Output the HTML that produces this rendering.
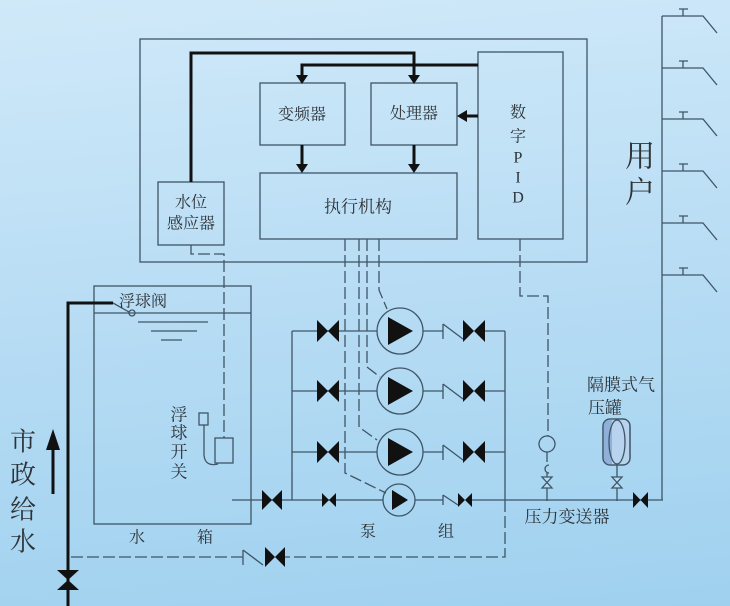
<!DOCTYPE html>
<html><head><meta charset="utf-8"><style>
html,body{margin:0;padding:0;}
body{width:730px;height:606px;overflow:hidden;background:linear-gradient(175deg,#d0e9f9 0%,#b7dcf4 50%,#9fd1ef 100%);}
svg{display:block;}
text{font-family:"Liberation Serif","Noto Serif CJK SC",serif;fill:#2e3338;}
</style></head><body>
<svg width="730" height="606" viewBox="0 0 730 606" xmlns="http://www.w3.org/2000/svg">
<g fill="none" stroke="#3f5566" stroke-width="1.3">
  <!-- control box -->
  <rect x="140" y="39" width="447" height="223"/>
  <rect x="260" y="83" width="85" height="62"/>
  <rect x="371" y="83" width="86" height="62"/>
  <rect x="478" y="52" width="85" height="187"/>
  <rect x="260" y="173" width="197" height="66"/>
  <rect x="158" y="182" width="66" height="63"/>
  <!-- tank -->
  <rect x="94" y="286" width="157" height="238"/>
  <line x1="94" y1="313" x2="251" y2="313"/>
  <line x1="138" y1="322" x2="208" y2="322"/>
  <line x1="151" y1="331" x2="197" y2="331"/>
  <line x1="161" y1="340" x2="182" y2="340"/>
  <line x1="113" y1="303" x2="129" y2="312"/>
  <circle cx="132" cy="313" r="3"/>
  <!-- float switch -->
  <rect x="215" y="438" width="18" height="25"/>
  <rect x="199" y="413" width="9" height="12"/>
  <path d="M204,425 L204,455 Q205,467 218,464"/>
  <!-- headers -->
  <line x1="292" y1="331" x2="292" y2="500"/>
  <line x1="505" y1="331" x2="505" y2="500"/>
  <!-- rows 1-3 -->
  <path d="M292,331 H377 M423,331 H443 M485,331 H505"/>
  <path d="M292,391 H377 M423,391 H443 M485,391 H505"/>
  <path d="M292,452 H377 M423,452 H443 M485,452 H505"/>
  <circle cx="400" cy="331" r="23"/>
  <circle cx="400" cy="391" r="23"/>
  <circle cx="400" cy="452" r="23"/>
  <!-- check valves -->
  <path d="M443,324 V339 M443,324 L463,339"/>
  <path d="M443,384 V399 M443,384 L463,399"/>
  <path d="M443,445 V460 M443,445 L463,460"/>
  <!-- row 4 main -->
  <path d="M232,500 H383 M415,500 H443 M472,500 H663"/>
  <circle cx="399" cy="500" r="16"/>
  <path d="M443,495 V505 M443,495 L458,505"/>
  <!-- bottom dashed check -->
  <path d="M243,550 V565 M243,550 L263,565"/>
  <!-- riser & users -->
  <line x1="662" y1="16" x2="662" y2="500"/>
  <path d="M662,16 H703 L717,33 M683,16 V9 M679,9 H688"/>
  <path d="M662,68 H703 L717,85 M683,68 V61 M679,61 H688"/>
  <path d="M662,119 H703 L717,136 M683,119 V112 M679,112 H688"/>
  <path d="M662,171 H703 L717,188 M683,171 V164 M679,164 H688"/>
  <path d="M662,223 H703 L717,240 M683,223 V216 M679,216 H688"/>
  <path d="M662,275 H703 L717,292 M683,275 V268 M679,268 H688"/>
  <!-- pressure transmitter -->
  <circle cx="547" cy="444" r="8"/>
  <path d="M547,452 V462"/>
  <path d="M549,465 A4,4 0 1 0 549,473 L547,473"/>
  <path d="M547,473 V501"/>
  <path d="M542,477 L552,477 L547,482.5 L542,488 L552,488 L547,482.5 Z" fill="#b9dcf3"/>
  <!-- gas tank -->
  <rect x="603" y="419" width="27" height="46" rx="7" fill="#b8d3ee"/>
  <path d="M610,419 H612 V465 H610 Q603,465 603,458 V426 Q603,419 610,419 Z" fill="#8fb0d8" stroke="none"/>
  <rect x="603" y="419" width="27" height="46" rx="7"/>
  <ellipse cx="617" cy="442" rx="8" ry="22"/>
  <path d="M617,465 V501"/>
  <path d="M612,477 L622,477 L617,482.5 L612,488 L622,488 L617,482.5 Z" fill="#b9dcf3"/>
</g>
<!-- dashed lines -->
<g fill="none" stroke="#3f5566" stroke-width="1.3" stroke-dasharray="12,4">
  <path d="M191,245 V254 H224 V438"/>
  <path d="M379,239 V290 L387,309"/>
  <path d="M367,239 V367 L380,377"/>
  <path d="M359,239 V427 L377,440"/>
  <path d="M345,239 V473 L386,493"/>
  <path d="M520,239 V296 H548 V436"/>
  <path d="M505,500 V557 H285"/>
  <path d="M243,557 H68"/>
</g>
<!-- thick lines -->
<g fill="none" stroke="#111" stroke-width="3">
  <path d="M113,303 H68 V606"/>
  <path d="M191,182 V53 H414 V76"/>
  <path d="M478,65 H302 V76"/>
  <path d="M478,116 H466"/>
  <path d="M302,145 V165"/>
  <path d="M414,145 V165"/>
  <path d="M53,494 V446"/>
</g>
<g fill="#111" stroke="none">
  <polygon points="296,75 308,75 302,84"/>
  <polygon points="408,75 420,75 414,84"/>
  <polygon points="467,110 467,122 457,116"/>
  <polygon points="296,164 308,164 302,173"/>
  <polygon points="408,164 420,164 414,173"/>
  <polygon points="46,450 60,450 53,429"/>
  <!-- pump triangles -->
  <polygon points="388,317 388,345 413,331"/>
  <polygon points="388,377 388,405 413,391"/>
  <polygon points="388,438 388,466 413,452"/>
  <polygon points="392,490 392,510 408,500"/>
  <!-- bowties rows 1-3 left -->
  <polygon points="317,320 317,342 328,331 339,320 339,342 328,331"/>
  <polygon points="317,380 317,402 328,391 339,380 339,402 328,391"/>
  <polygon points="317,441 317,463 328,452 339,441 339,463 328,452"/>
  <!-- right -->
  <polygon points="463,320 463,342 474,331 485,320 485,342 474,331"/>
  <polygon points="463,380 463,402 474,391 485,380 485,402 474,391"/>
  <polygon points="463,441 463,463 474,452 485,441 485,463 474,452"/>
  <!-- row 4 -->
  <polygon points="322,493 322,507 329,500 336,493 336,507 329,500"/>
  <polygon points="458,493 458,507 465,500 472,493 472,507 465,500"/>
  <polygon points="262,490 262,510 272,500 282,490 282,510 272,500"/>
  <polygon points="633,492 633,508 640.5,500 648,492 648,508 640.5,500"/>
  <!-- bottom dashed valve -->
  <polygon points="265,547 265,567 275,557 285,547 285,567 275,557"/>
  <!-- supply valve vertical -->
  <polygon points="57,570 79,570 68,580 57,590 79,590 68,580"/>
</g>
<!-- text -->
<g font-size="16" text-anchor="middle" dominant-baseline="central">
  <text x="302" y="115">变频器</text>
  <text x="414" y="114">处理器</text>
  <text x="358" y="207" font-size="17">执行机构</text>
  <text x="191" y="203">水位</text>
  <text x="191" y="224">感应器</text>
  <text x="518" y="113">数</text>
  <text x="518" y="137">字</text>
  <text x="518" y="158">P</text>
  <text x="518" y="178">I</text>
  <text x="518" y="198">D</text>
  <text x="143" y="302">浮球阀</text>
  <text x="179" y="415" font-size="17">浮</text>
  <text x="179" y="433" font-size="17">球</text>
  <text x="179" y="452" font-size="17">开</text>
  <text x="179" y="472" font-size="17">关</text>
  <text x="23" y="442" font-size="26">市</text>
  <text x="23" y="475" font-size="26">政</text>
  <text x="23" y="510" font-size="26">给</text>
  <text x="23" y="542" font-size="26">水</text>
  <text x="137" y="538">水</text>
  <text x="205" y="538">箱</text>
  <text x="368" y="532">泵</text>
  <text x="446" y="532">组</text>
  <text x="567" y="517" font-size="17">压力变送器</text>
  <text x="621" y="385" font-size="17">隔膜式气</text>
  <text x="605" y="408" font-size="17">压罐</text>
  <text x="640" y="157" font-size="30">用</text>
  <text x="640" y="193" font-size="30">户</text>
</g>
</svg>
</body></html>
